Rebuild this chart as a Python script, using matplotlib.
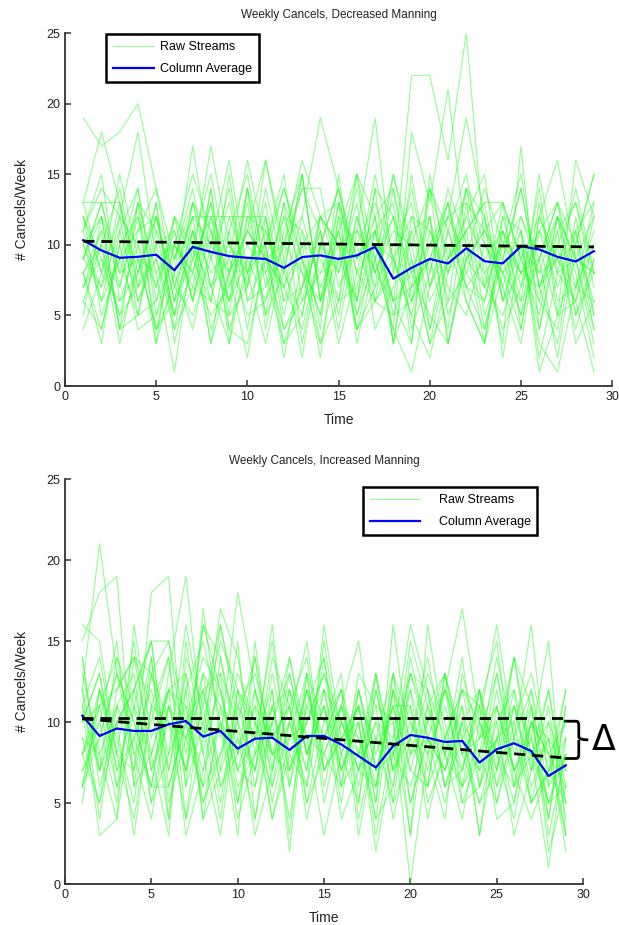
import numpy as np
import matplotlib
matplotlib.use('Agg')
import matplotlib.pyplot as plt
from matplotlib.path import Path
from matplotlib.patches import PathPatch

plt.rcParams['font.family'] = ['Liberation Sans', 'DejaVu Sans']

weeks = list(range(1, 30))

# raw streams, decreased manning
top_streams = [
    [19,17,18,20,14,9,12,10,8,11,9,7,10,12,13,9,11,6,8,10,12,9,7,10,8,11,9,7,10],
    [13,18,13,8,12,6,9,17,10,7,11,8,15,6,9,11,8,12,7,14,9,11,13,6,10,8,12,9,8],
    [13,13,13,7,10,5,12,12,12,8,10,14,9,5,13,8,15,9,6,10,13,7,9,11,8,7,9,11,13],
    [11,14,12,18,9,10,8,13,7,11,16,10,16,12,10,11,19,8,14,7,11,15,8,10,12,9,13,10,15],
    [5,12,4,8,12,7,13,9,14,6,9,7,12,19,14,8,6,8,22,22,16,25,10,8,11,6,12,9,3],
    [10,6,9,5,6,12,10,15,8,13,5,12,8,6,11,15,9,4,18,13,21,10,7,13,9,12,8,6,12],
    [8,4,10,4,5,8,17,9,6,12,11,7,4,10,14,9,12,3,7,9,12,19,12,6,8,10,5,9,8],
    [12,9,7,13,3,8,4,10,16,8,3,9,14,11,6,12,8,11,10,14,5,9,11,13,9,5,12,7,6],
    [7,10,3,9,8,1,10,7,11,4,12,6,7,10,3,8,10,6,15,7,12,13,5,9,14,7,10,4,9],
    [9,7,11,6,10,11,6,12,9,16,10,2,9,5,12,10,13,9,5,2,8,12,9,3,17,4,10,13,7],
    [10,12,8,13,8,10,8,5,7,10,8,12,11,8,9,15,6,9,12,11,7,5,10,8,6,9,13,5,8],
    [8,11,9,11,14,7,11,8,10,8,13,6,10,9,6,7,12,14,6,9,13,8,6,12,11,1,5,16,12],
    [12,8,6,10,7,11,6,11,6,9,6,10,14,14,7,10,6,5,9,3,9,11,13,13,4,12,9,6,1],
    [7,9,5,7,9,4,7,6,12,12,12,4,6,8,11,5,9,4,1,7,10,6,3,8,10,3,1,7,13],
    [11,6,12,5,11,8,12,4,8,11,9,10,8,3,9,6,14,12,8,5,3,10,8,4,7,11,7,11,4],
    [9,13,8,9,4,7,5,9,13,7,14,8,5,12,8,13,4,7,11,12,6,8,12,7,12,8,9,10,6],
    [6,4,10,12,7,12,9,6,5,14,7,10,12,7,10,9,11,6,7,9,4,13,11,9,5,13,6,7,11],
    [10,7,13,6,9,5,8,13,3,9,10,3,7,11,5,12,7,10,13,4,11,7,6,11,8,9,12,5,9],
    [8,10,5,11,12,9,13,7,9,5,6,13,9,2,12,4,10,9,5,11,8,14,7,5,9,6,4,12,5],
    [13,8,15,9,4,10,7,14,5,7,16,9,2,10,14,5,11,13,4,8,14,10,3,11,6,15,8,9,4],
    [9,12,4,13,11,5,11,3,8,14,4,11,15,6,13,3,9,15,10,4,9,14,12,2,10,4,11,13,8],
    [12,5,9,14,5,10,15,11,4,3,9,14,10,3,6,15,12,5,6,12,3,9,14,10,5,9,2,10,15],
    [7,11,4,5,12,6,10,3,11,15,8,3,5,12,10,4,7,15,9,3,6,14,10,7,3,11,13,8,2],
    [4,8,12,10,3,12,6,14,4,8,12,5,11,4,15,6,11,3,12,8,13,6,3,12,7,14,5,6,10],
    [11,15,6,8,13,4,11,6,15,6,7,13,3,10,8,14,8,6,3,15,8,11,4,9,14,7,3,11,5],
    [6,10,14,7,13,3,9,12,6,14,9,4,7,12,10,6,14,3,11,6,9,12,15,6,11,2,8,14,8],
    [8,3,11,14,6,9,14,7,3,12,5,8,15,6,11,4,6,14,8,12,3,9,11,8,4,12,16,9,12],
    [9,13,7,12,4,6,13,11,8,2,10,15,6,11,4,11,9,12,3,14,11,7,4,10,15,7,11,3,6],
]
top_avg = [10.33,9.6,9.08,9.15,9.3,8.2,9.85,9.5,9.2,9.08,9.0,8.37,9.13,9.25,9.0,
           9.25,9.85,7.6,8.37,9.0,8.68,9.76,8.84,8.68,9.9,9.67,9.15,8.82,9.55]
top_trend = [10.25, 9.85]

# raw streams, increased manning
bot_streams = [
    [16,15,8,7,18,19,6,17,9,18,12,8,10,6,16,9,11,5,16,8,9,12,17,10,16,9,16,6,12],
    [12,21,13,10,6,13,19,9,17,14,8,16,6,11,9,12,5,13,7,15,11,6,10,12,7,11,9,15,3],
    [15,18,19,6,14,4,12,15,10,3,15,7,13,8,12,7,11,6,12,3,16,9,7,11,15,6,8,10,5],
    [10,11,12,14,13,15,8,16,14,8,11,9,11,14,7,10,8,13,5,13,10,8,14,6,10,12,5,7,9],
    [11,3,4,16,9,12,13,8,16,11,9,15,7,10,13,8,11,9,13,10,8,12,9,7,13,8,11,2,6],
    [9,8,11,9,6,6,10,12,7,10,14,6,12,8,11,5,12,7,11,11,6,9,12,10,8,14,7,11,4],
    [14,6,10,12,15,15,10,5,10,7,6,12,2,12,9,11,7,10,9,16,12,9,6,9,13,7,10,5,8],
    [8,12,7,11,8,3,14,11,5,12,10,4,9,13,6,11,9,4,12,7,11,13,8,5,9,11,6,9,7],
    [7,9,13,8,10,14,4,9,12,6,8,11,7,10,12,6,8,11,4,9,13,10,5,8,11,6,12,7,10],
    [6,12,9,5,13,8,11,6,8,11,13,9,11,5,10,13,4,9,10,0,8,11,7,12,6,9,8,12,5],
    [12,7,11,13,5,11,7,13,6,9,7,13,8,12,7,9,10,2,8,12,5,8,11,6,12,7,9,4,11],
    [10,13,6,9,12,7,13,4,11,8,12,5,10,7,14,6,12,8,11,5,9,7,10,8,5,10,13,8,6],
    [8,5,10,12,7,10,9,12,13,5,10,8,12,9,8,11,6,12,7,10,7,12,8,10,7,12,8,1,9],
    [11,14,8,4,11,14,6,10,15,12,6,10,4,11,14,7,10,3,9,13,12,6,9,11,4,5,10,9,3],
    [9,5,12,14,8,12,3,7,13,10,3,7,14,8,11,4,7,10,6,12,8,4,13,9,10,3,7,12,6],
    [13,8,4,11,15,7,12,4,7,15,4,11,6,13,10,12,3,9,8,6,10,13,5,6,9,14,11,3,8],
    [6,11,14,8,4,11,7,16,12,7,9,12,3,13,5,10,9,6,13,5,9,5,10,3,11,7,4,7,5],
    [7,10,5,14,11,4,15,8,3,11,7,14,11,7,15,8,5,12,7,9,14,8,6,12,5,9,12,4,11],
    [12,4,11,7,13,10,4,12,6,8,14,8,7,12,8,11,15,7,11,7,6,13,9,5,7,14,8,5,6],
    [5,12,8,15,7,11,9,6,14,9,4,10,13,8,11,7,10,4,6,14,9,7,12,11,8,6,10,8,3],
    [11,7,14,11,5,8,16,10,4,12,9,6,10,15,7,9,11,5,13,8,10,12,6,8,14,9,5,10,7],
    [8,11,6,12,15,6,10,14,12,7,11,4,8,6,12,10,7,13,8,11,4,9,12,7,9,5,11,6,8],
    [14,7,10,3,11,10,7,11,16,10,7,11,12,5,8,6,13,11,10,3,11,8,4,10,6,11,7,9,2],
    [6,9,13,10,6,12,10,7,10,5,12,8,9,10,13,10,7,6,12,9,6,13,8,9,11,7,9,5,9],
    [10,13,7,9,14,5,9,13,11,4,8,10,14,9,3,8,12,7,8,13,9,7,11,3,9,10,5,7,12],
    [8,10,15,6,8,12,11,5,8,13,10,7,11,4,9,12,8,9,5,8,12,6,7,12,8,4,10,8,10],
]
bot_avg = [10.4,9.14,9.6,9.45,9.45,9.86,10.06,9.1,9.45,8.36,8.97,9.03,8.28,9.14,9.14,
           8.62,7.9,7.19,8.52,9.2,9.03,8.77,8.83,7.5,8.32,8.69,8.21,6.67,7.33]
bot_flat = [10.25, 10.25]
bot_trend = [10.2, 7.78]

green = (0.15, 1.0, 0.15)
fs = 9


def style_axes(ax, title):
    ax.set_xlim(0, 30)
    ax.set_ylim(0, 25)
    ax.set_xticks([0, 5, 10, 15, 20, 25, 30])
    ax.set_yticks([0, 5, 10, 15, 20, 25])
    for s in ['top', 'right']:
        ax.spines[s].set_visible(False)
    for s in ['left', 'bottom']:
        ax.spines[s].set_color('#333333')
        ax.spines[s].set_linewidth(1.3)
    ax.tick_params(direction='in', length=4, width=1.1, colors='#333333',
                   labelsize=fs, labelcolor='#222222')
    ax.set_title(title, fontsize=8.5, color='#222222', pad=11)
    ax.set_xlabel('Time', fontsize=10, color='#222222', labelpad=7)
    ax.set_ylabel('# Cancels/Week', fontsize=10, color='#222222', labelpad=12)


def draw_panel(ax, streams, avg, leg_anchor, hlen, hpad):
    for i, s in enumerate(streams):
        ax.plot(weeks, s, color=green, lw=0.8, alpha=0.5,
                label='Raw Streams' if i == 0 else None)
    ax.plot(weeks, avg, color='blue', lw=1.6, label='Column Average')
    leg = ax.legend(loc='upper left', bbox_to_anchor=leg_anchor, borderaxespad=0,
                    fontsize=fs, fancybox=False, framealpha=1,
                    handlelength=hlen, handletextpad=hpad,
                    borderpad=0.55, labelspacing=0.8)
    leg.get_frame().set_edgecolor('black')
    leg.get_frame().set_linewidth(1.8)
    leg.set_zorder(5)


fig = plt.figure(figsize=(6.19, 9.25), dpi=100)

ax1 = fig.add_axes([0.105, 0.5827, 0.884, 0.3816])
draw_panel(ax1, top_streams, top_avg, (0.075, 0.997), 3.3, 0.5)
ax1.plot([1, 29], top_trend, color='black', lw=2, ls=(0, (4, 2.5)))
style_axes(ax1, 'Weekly Cancels, Decreased Manning')

ax2 = fig.add_axes([0.105, 0.0443, 0.837, 0.4378])
draw_panel(ax2, bot_streams, bot_avg, (0.575, 0.98), 4.0, 1.5)
ax2.plot([1, 29], bot_flat, color='black', lw=2, ls=(0, (4, 2.5)))
ax2.plot([1, 29], bot_trend, color='black', lw=2, ls=(0, (4, 2.5)))
style_axes(ax2, 'Weekly Cancels, Increased Manning')

# brace and delta marking the gap at the end
yt, yb = 10.05, 7.75
ym = (yt + yb) / 2
verts = [(28.9, yt), (29.6, yt), (29.75, yt), (29.75, yt - 0.25),
         (29.75, ym + 0.2), (29.75, ym), (30.3, ym),
         (29.75, ym), (29.75, ym - 0.2), (29.75, yb + 0.25),
         (29.75, yb), (29.6, yb), (28.9, yb)]
codes = [Path.MOVETO, Path.LINETO, Path.CURVE3, Path.CURVE3,
         Path.LINETO, Path.CURVE3, Path.CURVE3,
         Path.MOVETO, Path.CURVE3, Path.CURVE3,
         Path.CURVE3, Path.CURVE3, Path.LINETO]
brace = PathPatch(Path(verts, codes), fill=False, lw=2, edgecolor='black',
                  clip_on=False)
ax2.add_patch(brace)
ax2.text(31.2, ym, '\u0394', fontsize=25, ha='center', va='center',
         family=['DejaVu Sans'], clip_on=False)

fig.savefig('out.png', dpi=100)
